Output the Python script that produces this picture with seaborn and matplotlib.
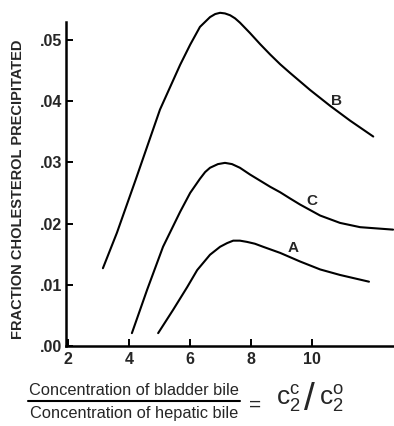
import pandas as pd
import seaborn as sns
import matplotlib.pyplot as plt

# Curvas
b_x = [3.15, 3.61, 4.22, 5.02, 5.68, 6.01, 6.33, 6.66, 6.83, 6.99, 7.15, 7.32, 7.48, 7.64,
       7.97, 8.30, 8.63, 8.96, 9.28, 9.94, 10.60, 11.25, 12.01]
b_y = [.0127, .0185, .0271, .0386, .0459, .0492, .0521, .0537, .0542, .0544, .0543, .0540,
       .0535, .0528, .0511, .0493, .0476, .0460, .0446, .0418, .0392, .0368, .0342]

c_x = [4.10, 4.60, 5.12, 5.68, 6.01, 6.33, 6.50, 6.66, 6.92, 7.15, 7.38, 7.64, 7.97, 8.30,
       8.63, 8.96, 9.28, 9.61, 10.27, 10.92, 11.58, 12.66]
c_y = [.0021, .0092, .0162, .0219, .0250, .0273, .0284, .0291, .0297, .0299, .0297, .0291,
       .0280, .0270, .0260, .0251, .0241, .0231, .0213, .0201, .0194, .0190]

a_x = [4.96, 5.45, 5.91, 6.24, 6.66, 6.99, 7.22, 7.42, 7.64, 7.87, 8.13, 8.40, 8.96, 9.61,
       10.27, 10.92, 11.87]
a_y = [.0021, .0059, .0096, .0124, .0149, .0162, .0168, .0172, .0172, .0170, .0167, .0162,
       .0152, .0138, .0125, .0116, .0105]

curve_names = ['B', 'C', 'A']
label_x = [10.82, 10.00, 9.38]
label_y = [.0400, .0237, .0160]

x_ticks = [2, 4, 6, 8, 10]
y_ticks = [0.0, 0.01, 0.02, 0.03, 0.04, 0.05]
y_tick_labels = ['.00', '.01', '.02', '.03', '.04', '.05']

datos = pd.concat([
    pd.DataFrame({'x': b_x, 'y': b_y, 'curva': 'B'}),
    pd.DataFrame({'x': c_x, 'y': c_y, 'curva': 'C'}),
    pd.DataFrame({'x': a_x, 'y': a_y, 'curva': 'A'}),
])

sns.set_style('ticks')
plt.rcParams['font.family'] = ['Liberation Sans', 'DejaVu Sans']

fig = plt.figure(figsize=(3.94, 4.26), dpi=100)
ax = fig.add_axes([66 / 394, 1 - 346 / 426, 328 / 394, 324 / 426])

sns.lineplot(data=datos, x='x', y='y', hue='curva', units='curva', estimator=None,
             sort=False, palette=['black'] * 3, linewidth=1.5, legend=False, ax=ax)
for line in ax.get_lines():
    line.set_clip_on(False)
    line.set_solid_joinstyle('round')

for name, lx, ly in zip(curve_names, label_x, label_y):
    ax.text(lx, ly, name, fontsize=11, fontweight='bold', ha='center', va='center')

ax.set_xlim(1.94, 12.69)
ax.set_ylim(0, 0.0529)
ax.set_xticks(x_ticks)
ax.set_xticklabels([str(t) for t in x_ticks], fontsize=11.5, fontweight='bold')
ax.set_yticks(y_ticks)
ax.set_yticklabels(y_tick_labels, fontsize=11.5, fontweight='bold')
ax.tick_params(axis='both', direction='in', length=5, width=1.4, color='black')
ax.tick_params(axis='y', pad=3)
ax.tick_params(axis='x', pad=4)
ax.set_xlabel('')
ax.set_ylabel('')
sns.despine(ax=ax)
for s in ['left', 'bottom']:
    ax.spines[s].set_linewidth(1.8)
    ax.spines[s].set_color('black')

fig.text(18 / 394, 1 - 189 / 426, 'FRACTION CHOLESTEROL PRECIPITATED', rotation=90,
         ha='center', va='center', fontsize=10.5, fontweight='bold')

# Cociente del eje x
fig.text(134 / 394, 1 - 395 / 426, 'Concentration of bladder bile', ha='center',
         va='baseline', fontsize=11.8)
fig.text(134 / 394, 1 - 418 / 426, 'Concentration of hepatic bile', ha='center',
         va='baseline', fontsize=11.8)
fig.add_artist(plt.Line2D([28 / 394, 240 / 394], [1 - 401 / 426, 1 - 401 / 426],
                          color='black', linewidth=1.5))
fig.text(255 / 394, 1 - 405 / 426, '=', ha='center', va='center', fontsize=15)
fig.text(276 / 394, 1 - 405 / 426, r'$\mathregular{c_2^c}$', ha='left', va='baseline',
         fontsize=19)
fig.text(309 / 394, 1 - 400 / 426, '/', ha='center', va='center', fontsize=28)
fig.text(319 / 394, 1 - 405 / 426, r'$\mathregular{c_2^o}$', ha='left', va='baseline',
         fontsize=19)

fig.savefig('out.png', dpi=100, facecolor='white')
